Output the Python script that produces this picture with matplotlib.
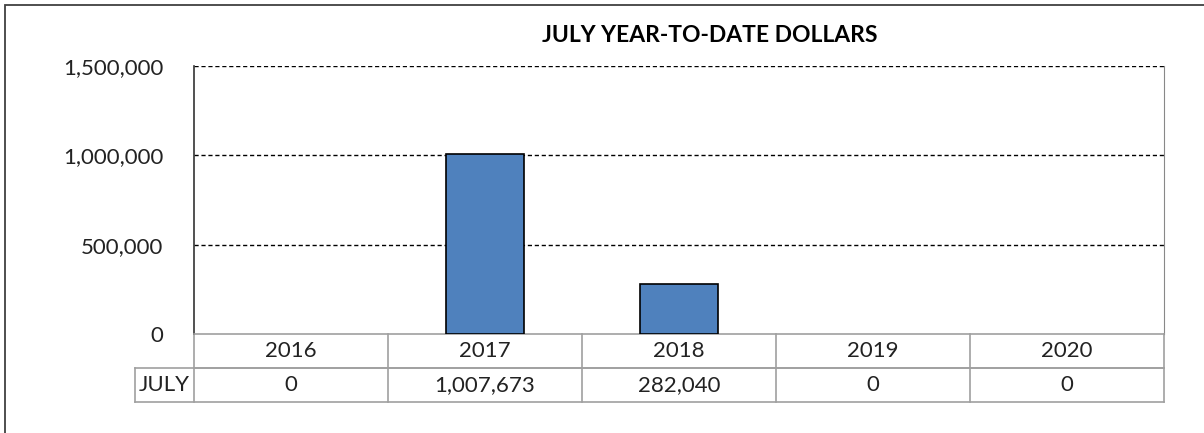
import matplotlib
matplotlib.use("Agg")
import matplotlib.pyplot as plt
from matplotlib.patches import Rectangle
from matplotlib.lines import Line2D

years = ["2016", "2017", "2018", "2019", "2020"]
july_values = [0, 1007673, 282040, 0, 0]
row_label = "JULY"
title = "JULY YEAR-TO-DATE DOLLARS"
yticks = [0, 500000, 1000000, 1500000]

plt.rcParams['font.family'] = ['Lato', 'DejaVu Sans']

W, H = 1204, 433
fig = plt.figure(figsize=(W / 100, H / 100), dpi=100)

# outer border
fig.add_artist(Rectangle((5 / W, -0.1), 1.2, (H - 5) / H + 0.1, transform=fig.transFigure,
                         fill=False, edgecolor="#404040", linewidth=1.3))

ax_l, ax_r, ax_t, ax_b = 194, 1164, 66, 334
ax = fig.add_axes([ax_l / W, (H - ax_b) / H, (ax_r - ax_l) / W, (ax_b - ax_t) / H])

x = list(range(len(years)))
bars = ax.bar(x, july_values, width=0.4, color="#4F81BD", edgecolor="black", linewidth=1.2, zorder=3)
for b, v in zip(bars, july_values):
    if v == 0:
        b.set_linewidth(0)
ax.set_xlim(-0.5, len(years) - 0.5)
ax.set_ylim(0, 1500000)
ax.set_yticks(yticks)
ax.set_yticklabels([f"{v:,}" for v in yticks], fontsize=16, color="#222222")
ax.tick_params(axis="y", length=0, pad=22)
ax.set_xticks([])
for v in yticks[1:]:
    ax.axhline(v, color="black", linestyle=(0, (3, 2)), linewidth=1.0, zorder=1)
ax.spines["left"].set_color("#333333")
ax.spines["left"].set_linewidth(1.2)
ax.spines["right"].set_color("#888888")
ax.spines["top"].set_visible(False)
ax.spines["bottom"].set_color("#A0A0A0")
ax.spines["bottom"].set_linewidth(1.2)

fig.text(710 / W, 1 - 35 / H, title, ha="center", va="center", fontsize=16.5,
         fontweight="bold", color="black")

# data table below the axes
row_h = 34 / (ax_b - ax_t)
lab_x0 = (135 - ax_l) / (ax_r - ax_l)
n = len(years)
gc = "#A0A0A0"
tr = ax.transAxes
lines = []
lines.append(((0, 1), (-row_h, -row_h)))
lines.append(((lab_x0, 1), (-row_h, -row_h)))
lines.append(((lab_x0, 1), (-2 * row_h, -2 * row_h)))
lines.append(((lab_x0, lab_x0), (-row_h, -2 * row_h)))
for i in range(n + 1):
    xf = i / n
    lines.append(((xf, xf), (0, -2 * row_h)))
for xs, ys in lines:
    ax.add_line(Line2D(xs, ys, transform=tr, color=gc, linewidth=1.2, clip_on=False))

for i, (yr, v) in enumerate(zip(years, july_values)):
    xc = (i + 0.5) / n
    ax.text(xc, -0.5 * row_h, yr, transform=tr, ha="center", va="center", fontsize=16, color="#222222")
    ax.text(xc, -1.5 * row_h, f"{v:,}", transform=tr, ha="center", va="center", fontsize=16, color="#222222")
ax.text(lab_x0 / 2, -1.5 * row_h, row_label, transform=tr, ha="center", va="center", fontsize=16, color="#222222")

fig.savefig("out.png", dpi=100)
